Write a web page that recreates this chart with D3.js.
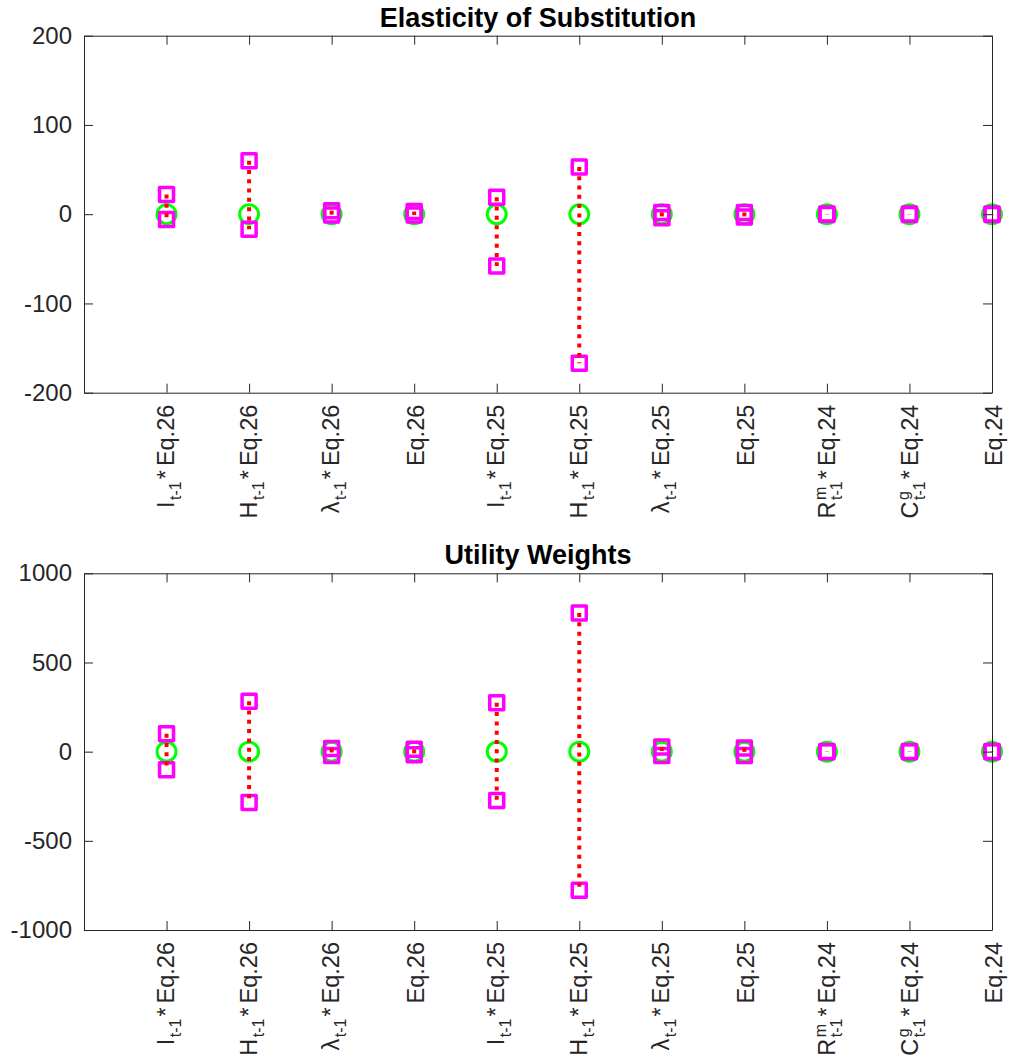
<!DOCTYPE html>
<html><head><meta charset="utf-8">
<script src="https://cdn.jsdelivr.net/npm/d3@7"></script>
<style>body{margin:0;background:#fff}</style>
</head><body>
<svg id="c" width="1010" height="1059"></svg>
<script>
// ---- data ----
const categories = ["I_{t-1}*Eq.26", "H_{t-1}*Eq.26", "\\lambda_{t-1}*Eq.26", "Eq.26",
  "I_{t-1}*Eq.25", "H_{t-1}*Eq.25", "\\lambda_{t-1}*Eq.25", "Eq.25",
  "R^m_{t-1}*Eq.24", "C^g_{t-1}*Eq.24", "Eq.24"];
const titles = ["Elasticity of Substitution", "Utility Weights"];
const yTicksTop = [-200, -100, 0, 100, 200];
const yTicksBottom = [-1000, -500, 0, 500, 1000];
const elasticityUpper = [22, 60, 4, 3, 19, 53, 2, 2, 0.2, 0.2, 0.2];
const elasticityLower = [-6, -17, -1, -1, -58, -167, -4, -3, -0.2, -0.2, -0.2];
const elasticityCenter = [0, 0, 0, 0, 0, 0, 0, 0, 0, 0, 0];
const weightsUpper = [101, 283, 18, 13, 274, 777, 26, 21, 1, 1, 1];
const weightsLower = [-101, -285, -22, -17, -274, -777, -22, -22, -1, -1, -1];
const weightsCenter = [0, 0, 0, 0, 0, 0, 0, 0, 0, 0, 0];

// ---- layout ----
const svg = d3.select("#c");
const FONT = "'Liberation Sans', Arial, Helvetica, sans-serif";
const AX = "#262626";
const left = 84, right = 992;
const panels = [
  {title: titles[0], top: 35.7, bottom: 392.7, ticks: yTicksTop, upper: elasticityUpper, lower: elasticityLower, center: elasticityCenter},
  {title: titles[1], top: 573.3, bottom: 930, ticks: yTicksBottom, upper: weightsUpper, lower: weightsLower, center: weightsCenter}
];

const x = d3.scaleLinear().domain([0, categories.length]).range([left, right]);
const idx = d3.range(1, categories.length + 1);

function parseTex(s) {
  s = s.replace(/\\lambda/g, "λ");
  const segs = []; let buf = ""; let i = 0;
  const flush = () => { if (buf) { segs.push({t: "n", s: buf}); buf = ""; } };
  while (i < s.length) {
    const ch = s[i];
    if (ch === "^" || ch === "_") {
      flush();
      let g;
      if (s[i + 1] === "{") { const j = s.indexOf("}", i + 2); g = s.slice(i + 2, j); i = j + 1; }
      else { g = s[i + 1]; i += 2; }
      segs.push({t: ch === "^" ? "sup" : "sub", s: g});
    } else { buf += ch; i++; }
  }
  flush();
  return segs;
}

panels.forEach(p => {
  const y = d3.scaleLinear().domain([p.ticks[0], p.ticks[p.ticks.length - 1]]).range([p.bottom, p.top]);
  const g = svg.append("g");

  // data marks
  const marks = g.append("g");
  marks.selectAll("circle").data(idx).join("circle")
    .attr("cx", d => x(d)).attr("cy", d => y(p.center[d - 1])).attr("r", 9.5)
    .attr("fill", "none").attr("stroke", "#00ff00").attr("stroke-width", 3);
  const sq = 14;
  marks.selectAll("rect.u").data(idx).join("rect").attr("class", "u")
    .attr("x", d => x(d) - sq / 2).attr("y", d => y(p.upper[d - 1]) - sq / 2)
    .attr("width", sq).attr("height", sq)
    .attr("fill", "none").attr("stroke", "#ff00ff").attr("stroke-width", 3.5).attr("stroke-linejoin", "round");
  marks.selectAll("rect.l").data(idx).join("rect").attr("class", "l")
    .attr("x", d => x(d) - sq / 2).attr("y", d => y(p.lower[d - 1]) - sq / 2)
    .attr("width", sq).attr("height", sq)
    .attr("fill", "none").attr("stroke", "#ff00ff").attr("stroke-width", 3.5).attr("stroke-linejoin", "round");
  marks.selectAll("line").data(idx).join("line")
    .attr("x1", d => x(d)).attr("x2", d => x(d))
    .attr("y1", d => y(p.upper[d - 1])).attr("y2", d => y(p.lower[d - 1]))
    .attr("stroke", "#ff0000").attr("stroke-width", 4).attr("stroke-dasharray", "4,5.3");

  // axes
  const styleAxis = sel => {
    sel.selectAll("path,line").attr("stroke", AX).attr("stroke-width", 1);
    sel.selectAll("text").attr("fill", AX).style("font-family", FONT).style("font-size", "24px");
  };
  g.append("g").attr("transform", `translate(${left},0)`)
    .call(d3.axisLeft(y).tickValues(p.ticks).tickSizeInner(-9).tickSizeOuter(0).tickPadding(12).tickFormat(d => String(d)))
    .call(styleAxis);
  g.append("g").attr("transform", `translate(${right},0)`)
    .call(d3.axisRight(y).tickValues(p.ticks).tickSizeInner(-9).tickSizeOuter(0).tickFormat(""))
    .call(styleAxis);
  g.append("g").attr("transform", `translate(0,${p.bottom})`)
    .call(d3.axisBottom(x).tickValues(idx).tickSizeInner(-9).tickSizeOuter(0).tickFormat(""))
    .call(styleAxis);
  g.append("g").attr("transform", `translate(0,${p.top})`)
    .call(d3.axisTop(x).tickValues(idx).tickSizeInner(-9).tickSizeOuter(0).tickFormat(""))
    .call(styleAxis);

  // x tick labels (rotated, TeX-like)
  idx.forEach(d => {
    const segs = parseTex(categories[d - 1]);
    const t = g.append("text").attr("text-anchor", "end").attr("fill", AX)
      .style("font-family", FONT).style("font-size", "23.5px");
    let shift = 0, prev = null, prevNode = null;
    segs.forEach(sgm => {
      const ts = t.append("tspan").text(sgm.s);
      let target = sgm.t === "sub" ? 7 : sgm.t === "sup" ? -9 : 0;
      if (sgm.t !== "n") ts.style("font-size", "16px");
      ts.attr("dy", target - shift);
      let dx = 0;
      if ((sgm.t === "sub" && prev === "sup") || (sgm.t === "sup" && prev === "sub")) {
        dx = -prevNode.getComputedTextLength();
      } else if (sgm.t !== "n" && prev === "n") {
        dx = 1.5;
      } else if (sgm.t === "n" && prev && prev !== "n") {
        dx = 2;
      }
      if (sgm.t === "n" && sgm.s.startsWith("*")) {
        // small extra gap after the asterisk
        ts.text("*");
        t.append("tspan").attr("dx", 4).text(sgm.s.slice(1));
      }
      if (dx) ts.attr("dx", dx);
      shift = target; prev = sgm.t; prevNode = ts.node();
    });
    const bb = t.node().getBBox();
    const cy = bb.y + bb.height / 2;
    t.attr("transform", `translate(${x(d) - cy + 2},${p.bottom + 12}) rotate(-90)`);
  });

  // title
  g.append("text").attr("x", (left + right) / 2).attr("y", p.top - 9)
    .attr("text-anchor", "middle").attr("fill", "#000")
    .style("font-family", FONT).style("font-size", "27px").style("font-weight", "bold")
    .text(p.title);
});
</script>
</body></html>
